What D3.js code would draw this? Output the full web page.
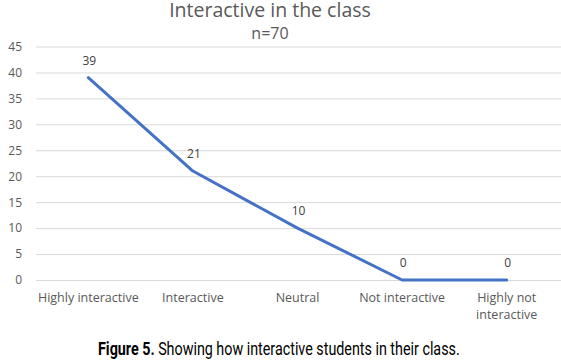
<!DOCTYPE html>
<html><head><meta charset="utf-8">
<script src="https://cdn.jsdelivr.net/npm/d3@7"></script>
<style>body{margin:0;background:#fff}svg{display:block}</style>
</head><body>
<script>
const categories = ["Highly interactive","Interactive","Neutral","Not interactive","Highly not interactive"];
const values = [39,21,10,0,0];
const yTicks = [0,5,10,15,20,25,30,35,40,45];
const title = "Interactive in the class";
const subtitle = "n=70";
const captionBold = "Figure 5.";
const captionText = " Showing how interactive students in their class.";

const W=561,H=360;
const svg=d3.select("body").append("svg").attr("width",W).attr("height",H);
const font="'Open Sans', 'Noto Sans', sans-serif";
const x=d3.scaleBand().domain(categories).range([36,559]);
const y=d3.scaleLinear().domain([0,45]).range([280,46.5]);

svg.append("defs").append("clipPath").attr("id","c").append("rect").attr("x",0).attr("y",0).attr("width",W).attr("height",322);
const g=svg.append("g").attr("clip-path","url(#c)");

const ya=g.append("g").attr("transform","translate(36,0)")
 .call(d3.axisLeft(y).tickValues(yTicks).tickSize(-(W-36)).tickPadding(14));
ya.select(".domain").remove();
ya.selectAll(".tick line").attr("stroke","#d9d9d9").attr("stroke-width",1);
ya.selectAll(".tick text").attr("fill","#595959").style("font-family",font).style("font-size","12px");

const xa=g.append("g").attr("transform","translate(0,280)")
 .call(d3.axisBottom(x).tickSize(0).tickPadding(13));
xa.select(".domain").remove();
xa.selectAll(".tick text").attr("fill","#595959").style("font-family",font).style("font-size","12.5px")
 .each(function(d){
   if(d==="Highly not interactive"){
     const t=d3.select(this); t.text(null);
     t.append("tspan").attr("x",0).attr("dy","0.71em").text("Highly not");
     t.append("tspan").attr("x",0).attr("dy","1.35em").text("interactive");
   }
 });

const line=d3.line().x((d,i)=>x(categories[i])+x.bandwidth()/2).y(d=>y(d));
g.append("path").datum(values).attr("d",line).attr("fill","none")
 .attr("stroke","#4472c4").attr("stroke-width",3).attr("stroke-linejoin","round").attr("stroke-linecap","round");

g.selectAll(".lbl").data(values).enter().append("text")
 .attr("x",(d,i)=>x(categories[i])+x.bandwidth()/2+1)
 .attr("y",d=>y(d)-13).attr("text-anchor","middle")
 .attr("fill","#404040").style("font-family",font).style("font-size","12px").text(d=>d);

svg.append("text").attr("x",270).attr("y",17).attr("text-anchor","middle")
 .attr("fill","#595959").style("font-family",font).style("font-size","19.5px").text(title);
svg.append("text").attr("x",270).attr("y",39).attr("text-anchor","middle")
 .attr("fill","#595959").style("font-family",font).style("font-size","16px").text(subtitle);

const capG=svg.append("g");
const cap=capG.append("text").attr("x",0).attr("y",0).attr("fill","#000")
 .style("font-family","'Roboto','Liberation Sans',sans-serif").style("font-size","18px")
 .style("white-space","pre").attr("xml:space","preserve");
cap.append("tspan").attr("font-weight","bold").text(captionBold);
cap.append("tspan").text(captionText);
const natural=cap.node().getComputedTextLength();
capG.attr("transform",`translate(98,355) scale(${362/natural},1)`);
</script>
</body></html>
